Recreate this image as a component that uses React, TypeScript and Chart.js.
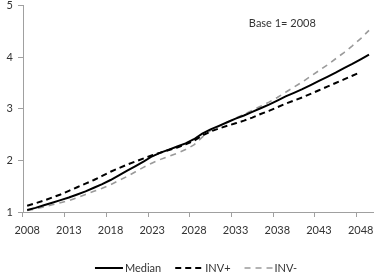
import React, { useEffect, useRef } from "react";
import { Chart, registerables } from "chart.js";

Chart.register(...registerables);

const years: string[] = [
  "2008","2009","2010","2011","2012","2013","2014","2015","2016","2017",
  "2018","2019","2020","2021","2022","2023","2024","2025","2026","2027",
  "2028","2029","2030","2031","2032","2033","2034","2035","2036","2037",
  "2038","2039","2040","2041","2042","2043","2044","2045","2046","2047",
  "2048","2049",
];

const median: (number | null)[] = [
  1.04, 1.08, 1.13, 1.18, 1.23, 1.28, 1.34, 1.40, 1.47, 1.54,
  1.62, 1.71, 1.80, 1.89, 1.98, 2.08, 2.15, 2.21, 2.27, 2.33,
  2.41, 2.52, 2.60, 2.67, 2.74, 2.81, 2.87, 2.94, 3.01, 3.08,
  3.16, 3.24, 3.31, 3.38, 3.46, 3.54, 3.62, 3.70, 3.79, 3.87,
  3.96, 4.05,
];

const invPlus: (number | null)[] = [
  1.12, 1.17, 1.22, 1.28, 1.34, 1.41, 1.48, 1.55, 1.62, 1.70,
  1.78, 1.85, 1.92, 1.98, 2.04, 2.10, 2.15, 2.20, 2.25, 2.31,
  2.38, 2.48, 2.56, 2.62, 2.67, 2.72, 2.77, 2.83, 2.90, 2.96,
  3.03, 3.10, 3.16, 3.22, 3.29, 3.36, 3.43, 3.50, 3.57, 3.64,
  3.71, null,
];

const invMinus: (number | null)[] = [
  1.03, 1.06, 1.10, 1.14, 1.18, 1.22, 1.28, 1.34, 1.40, 1.46,
  1.53, 1.61, 1.69, 1.78, 1.87, 1.95, 2.02, 2.08, 2.14, 2.21,
  2.30, 2.45, 2.58, 2.66, 2.74, 2.82, 2.89, 2.97, 3.05, 3.13,
  3.22, 3.32, 3.42, 3.52, 3.63, 3.74, 3.85, 3.97, 4.09, 4.22,
  4.36, 4.52,
];

const yTicks: number[] = [1, 2, 3, 4, 5];
const annotation = "Base 1= 2008";

const FONT = "Lato, 'Open Sans', sans-serif";

const notePlugin = {
  id: "baseNote",
  afterDraw(chart: any) {
    const { ctx, chartArea } = chart;
    ctx.save();
    ctx.font = `11px ${FONT}`;
    ctx.fillStyle = "#333";
    ctx.textBaseline = "middle";
    ctx.textAlign = "left";
    const x = chartArea.left + (chartArea.right - chartArea.left) * 0.645;
    const y = chartArea.top + (chartArea.bottom - chartArea.top) * 0.085;
    ctx.fillText(annotation, x, y);
    ctx.restore();
  },
};

const legendPlugin = {
  id: "lineLegend",
  afterDraw(chart: any) {
    const { ctx, chartArea, height } = chart;
    const sample = 28;
    const gapText = 2;
    const gapItem = 14;
    ctx.save();
    ctx.font = `11px ${FONT}`;
    const items = chart.data.datasets.map((d: any) => ({
      label: d.label as string,
      color: d.borderColor as string,
      width: d.borderWidth as number,
      dash: (d.borderDash || []) as number[],
      tw: ctx.measureText(d.label).width,
    }));
    const total =
      items.reduce((a: number, it: any) => a + sample + gapText + it.tw, 0) +
      gapItem * (items.length - 1);
    let x = (chartArea.left + chartArea.right) / 2 - total / 2 - 2;
    const y = height - 10;
    for (const it of items) {
      ctx.beginPath();
      ctx.strokeStyle = it.color;
      ctx.lineWidth = it.width;
      ctx.setLineDash(it.dash);
      ctx.moveTo(x, y);
      ctx.lineTo(x + sample, y);
      ctx.stroke();
      ctx.setLineDash([]);
      x += sample + gapText;
      ctx.fillStyle = "#333";
      ctx.textBaseline = "middle";
      ctx.textAlign = "left";
      ctx.fillText(it.label, x, y);
      x += it.tw + gapItem;
    }
    ctx.restore();
  },
};

export default function App() {
  const ref = useRef<HTMLCanvasElement | null>(null);

  useEffect(() => {
    if (!ref.current) return;
    const chart = new Chart(ref.current, {
      type: "line",
      data: {
        labels: years,
        datasets: [
          {
            label: "Median",
            data: median,
            borderColor: "#000000",
            backgroundColor: "#000000",
            borderWidth: 2,
            pointRadius: 0,
            tension: 0,
          },
          {
            label: "INV+",
            data: invPlus,
            borderColor: "#000000",
            backgroundColor: "#000000",
            borderWidth: 2,
            borderDash: [6, 4],
            pointRadius: 0,
            tension: 0,
          },
          {
            label: "INV-",
            data: invMinus,
            borderColor: "#9a9a9a",
            backgroundColor: "#9a9a9a",
            borderWidth: 1.6,
            borderDash: [6, 5],
            pointRadius: 0,
            tension: 0,
          },
        ],
      },
      options: {
        animation: false,
        responsive: true,
        maintainAspectRatio: false,
        layout: { padding: { top: 0, right: 0, left: 0, bottom: 26 } },
        plugins: {
          tooltip: { enabled: false },
          legend: { display: false },
        },
        scales: {
          x: {
            type: "category",
            offset: true,
            grid: {
              offset: true,
              drawOnChartArea: false,
              drawTicks: true,
              tickLength: 5,
              tickColor: (ctx: any) => (ctx.index % 5 === 0 ? "#a0a0a0" : "rgba(0,0,0,0)"),
              color: (ctx: any) => (ctx.index % 5 === 0 ? "#a0a0a0" : "rgba(0,0,0,0)"),
            },
            border: { display: true, color: "#a0a0a0", width: 1 },
            ticks: {
              autoSkip: false,
              maxRotation: 0,
              padding: 7,
              color: "#333",
              font: { family: FONT, size: 11 },
              callback: (_v: any, i: number) => (i % 5 === 0 ? years[i] : ""),
            },
            afterFit: (s: any) => {
              s.height = 40;
            },
          },
          y: {
            min: 1,
            max: 5,
            afterBuildTicks: (s: any) => {
              s.ticks = yTicks.map((v) => ({ value: v }));
            },
            grid: {
              drawOnChartArea: false,
              drawTicks: true,
              tickLength: 5,
              color: "#a0a0a0",
            },
            border: { display: true, color: "#a0a0a0", width: 1 },
            ticks: {
              padding: 5,
              color: "#333",
              font: { family: FONT, size: 11 },
            },
            afterFit: (s: any) => {
              s.width = 23;
            },
          },
        },
      },
      plugins: [notePlugin, legendPlugin],
    });
    return () => chart.destroy();
  }, []);

  return (
    <div style={{ position: "fixed", left: 0, top: -6, width: 376, height: 284 }}>
      <canvas ref={ref} />
    </div>
  );
}
